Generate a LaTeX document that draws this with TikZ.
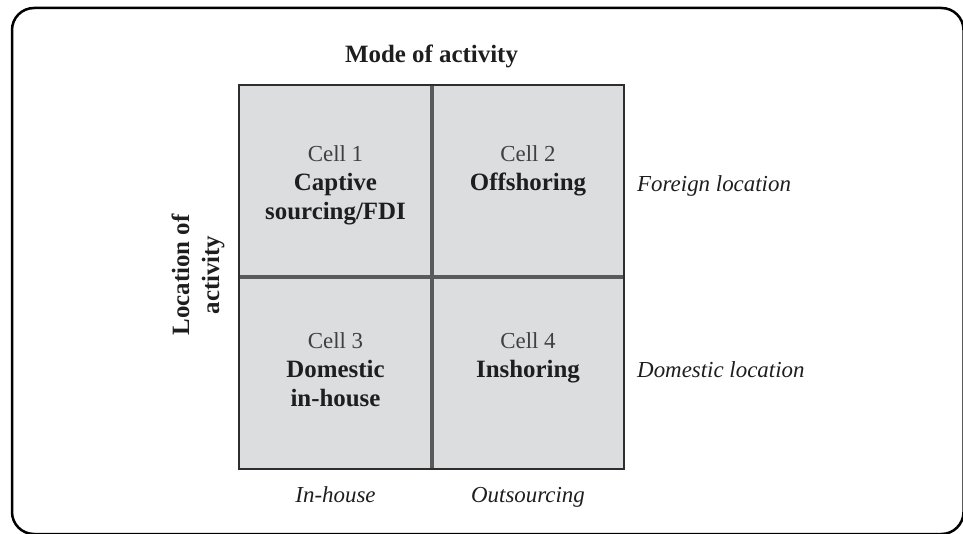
\documentclass[tikz,border=0pt]{standalone}
\usepackage{fontspec}
\setmainfont{Liberation Serif}
\definecolor{cellgray}{HTML}{DCDDDF}
\definecolor{divgray}{HTML}{5A5A5A}
\definecolor{edgegray}{HTML}{2E2E2E}
\definecolor{taggray}{HTML}{404040}
\definecolor{inkgray}{HTML}{1E1E1E}
\newcommand{\heavy}[1]{{\fontsize{25}{29.5}\selectfont\bfseries #1}}
\newcommand{\celltag}[1]{{\color{taggray}#1}}
\begin{document}
\begin{tikzpicture}[x=1bp,y=-1bp,
  frame/.style={draw=black, line width=2.5bp, rounded corners=22bp},
  gridbox/.style={fill=cellgray, inner sep=0pt, minimum width=385bp, minimum height=384bp},
  divider/.style={draw=divgray, line width=4bp},
  border/.style={draw=edgegray, line width=2.5bp},
  celltext/.style={anchor=north, align=center, inner sep=0pt, text=inkgray,
    font=\fontsize{23}{29.5}\selectfont},
  axislabel/.style={inner sep=0pt, text=inkgray, font=\fontsize{23}{28}\selectfont\itshape},
  headlabel/.style={inner sep=0pt, text=inkgray, align=center,
    font=\fontsize{25}{30}\selectfont\bfseries}]
\useasboundingbox (0,0) rectangle (963,534);
\clip (0,0) rectangle (963,534);

% outer rounded frame, running off the right and bottom edges
\draw[frame] (12,8) rectangle (963.5,534);

% the 2x2 matrix
\node[gridbox] (grid) at (431.5,277) {};
\draw[divider] (grid.north) -- (grid.south);
\draw[divider] (grid.west) -- (grid.east);
\draw[border] (grid.north west) rectangle (grid.south east);

% cell contents
\node[celltext] (c1) at (335.5,145) {\celltag{Cell 1}\\\heavy{Captive}\\\heavy{sourcing/FDI}};
\node[celltext] (c2) at (528,145) {\celltag{Cell 2}\\\heavy{Offshoring}};
\node[celltext] (c3) at (335.5,332) {\celltag{Cell 3}\\\heavy{Domestic}\\\heavy{in-house}};
\node[celltext] (c4) at (528,332) {\celltag{Cell 4}\\\heavy{Inshoring}};

% axis titles
\node[headlabel, anchor=base] (mode) at (431.5,63) {Mode of activity};
\node[headlabel, rotate=90] (loc) at (198,275) {Location of\\activity};

% row and column labels
\node[axislabel, anchor=base west] (foreign) at (637,192) {Foreign location};
\node[axislabel, anchor=base west] (domestic) at (637,378) {Domestic location};
\node[axislabel, anchor=base] (inhouse) at (335.5,502) {In-house};
\node[axislabel, anchor=base] (outsrc) at (528,502) {Outsourcing};
\end{tikzpicture}
\end{document}
